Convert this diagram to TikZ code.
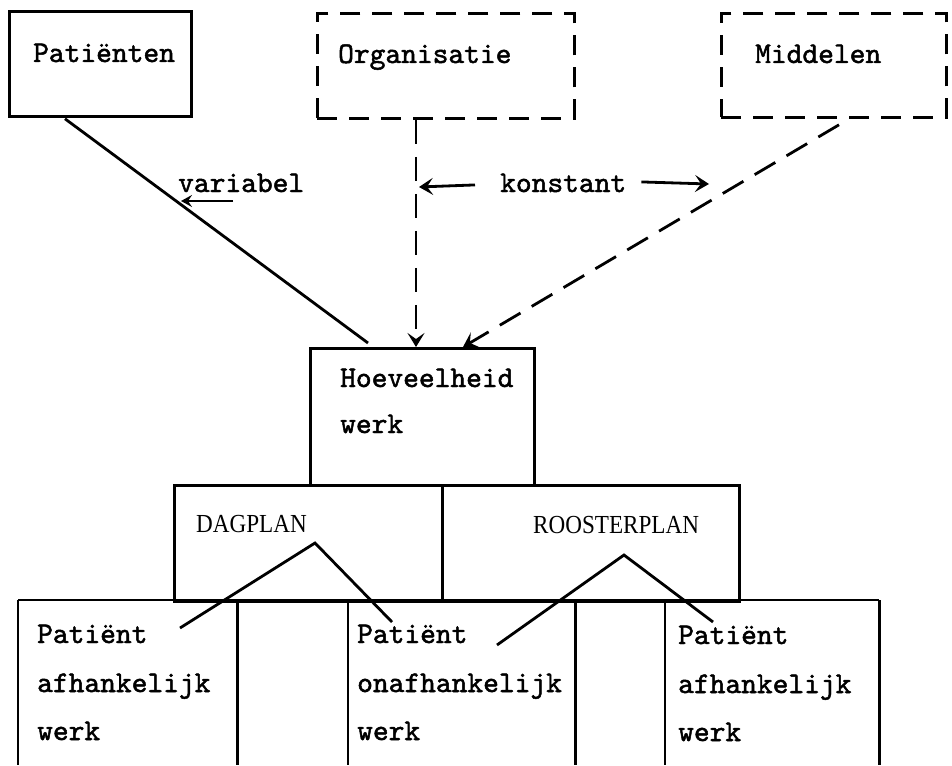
\documentclass[tikz,border=0pt]{standalone}
\usepackage{fontspec}
\newfontfamily\twfont{lmmono10-regular.otf}[FakeBold=1.6]
\newfontfamily\planfont{Liberation Serif}
\usetikzlibrary{arrows.meta,calc}
\begin{document}
\begin{tikzpicture}[x=1pt,y=-1pt,
  box/.style={draw, line width=2.8pt, inner sep=0pt, anchor=north west},
  dbox/.style={box, dash pattern=on 20pt off 12pt},
  area/.style={inner sep=0pt, anchor=north west},
  tw/.style={font=\fontsize{30}{36}\selectfont\twfont, inner sep=0pt, anchor=base west},
  rmtxt/.style={font=\fontsize{26}{30}\selectfont\planfont, inner sep=0pt, anchor=base west, xscale=0.89},
  conn/.style={line width=2.8pt},
  dconn/.style={conn, dash pattern=on 24pt off 13pt},
  tip/.style={-{Stealth[length=14pt,width=17pt,inset=6pt]}}
]
\useasboundingbox (0,0) rectangle (952,765);

% top boxes
\node[box, minimum width=182pt, minimum height=105pt] (P) at (8,10) {};
\node[dbox, minimum width=257pt, minimum height=105pt] (O) at (316,12) {};
\node[dbox, minimum width=225pt, minimum height=104pt] (M) at (720,12) {};
\node[tw] (tP) at (33,62) {Patiënten};
\node[tw] (tO) at (338,63) {Organisatie};
\node[tw] (tM) at (755,63) {Middelen};

% Hoeveelheid werk
\node[box, minimum width=224pt, minimum height=137pt] (H) at (309,347) {};
\node[tw] (tH1) at (340,387) {Hoeveelheid};
\node[tw] (tH2) at (340,433) {werk};

% plan boxes
\node[box, minimum width=268pt, minimum height=116pt] (D) at (173,484) {};
\node[box, minimum width=297pt, minimum height=116pt] (R) at (441,484) {};
\node[rmtxt] (tD) at (196,532) {DAGPLAN};
\node[rmtxt] (tR) at (533,533) {ROOSTERPLAN};

% bottom boxes (open at the bottom)
\node[area, minimum width=219pt, minimum height=165pt] (B1) at (18,600) {};
\node[area, minimum width=227pt, minimum height=165pt] (B2) at (348,600) {};
\node[area, minimum width=214pt, minimum height=165pt] (B3) at (665,600) {};
\draw[conn] (B1.north west) -- (B3.north east);
\foreach \b in {B1,B2,B3}{
  \draw[conn] (\b.north west) -- (\b.south west);
  \draw[conn] (\b.north east) -- (\b.south east);
}
\node[tw] (b1a) at (37,643) {Patiënt};
\node[tw] (b1b) at (37,692) {afhankelijk};
\node[tw] (b1c) at (37,740) {werk};
\node[tw] (b2a) at (357,643) {Patiënt};
\node[tw] (b2b) at (357,692) {onafhankelijk};
\node[tw] (b2c) at (357,740) {werk};
\node[tw] (b3a) at (678,644) {Patiënt};
\node[tw] (b3b) at (678,693) {afhankelijk};
\node[tw] (b3c) at (678,741) {werk};

% connectors into Hoeveelheid werk
\draw[conn] ($(P.south west)+(57,1)$) -- ($(H.north west)+(59,-4)$);
\draw[dconn, tip] ($(O.south west)+(100,0)$) -- ($(H.north west)+(107,0)$);
\draw[dconn, tip] ($(M.south west)+(119,6)$) -- ($(H.north west)+(154,0)$);

% labels with arrows
\node[tw] (var) at (178,192) {variabel};
\coordinate (varS) at (233,201);
\coordinate (varE) at (181,201);
\draw[line width=2.4pt, -{Stealth[length=11pt,width=12pt,inset=4pt]}] (varS) -- (varE);

\node[tw] (kon) at (500,192) {konstant};
\coordinate (konL) at (419,187);
\coordinate (konR) at (709,184);
\draw[line width=2.8pt, tip] ($(kon.west)+(-25,2)$) -- (konL);
\draw[line width=2.8pt, tip] ($(kon.east)+(15,-1)$) -- (konR);

% split lines under DAGPLAN and ROOSTERPLAN
\coordinate (dA) at (315,543);
\coordinate (dL) at (180,628);
\coordinate (dR) at (392,622);
\draw[conn] (dL) -- (dA) -- (dR);
\coordinate (rA) at (624,555);
\coordinate (rL) at (497,645);
\coordinate (rR) at (713,622);
\draw[conn] (rL) -- (rA) -- (rR);
\end{tikzpicture}
\end{document}
